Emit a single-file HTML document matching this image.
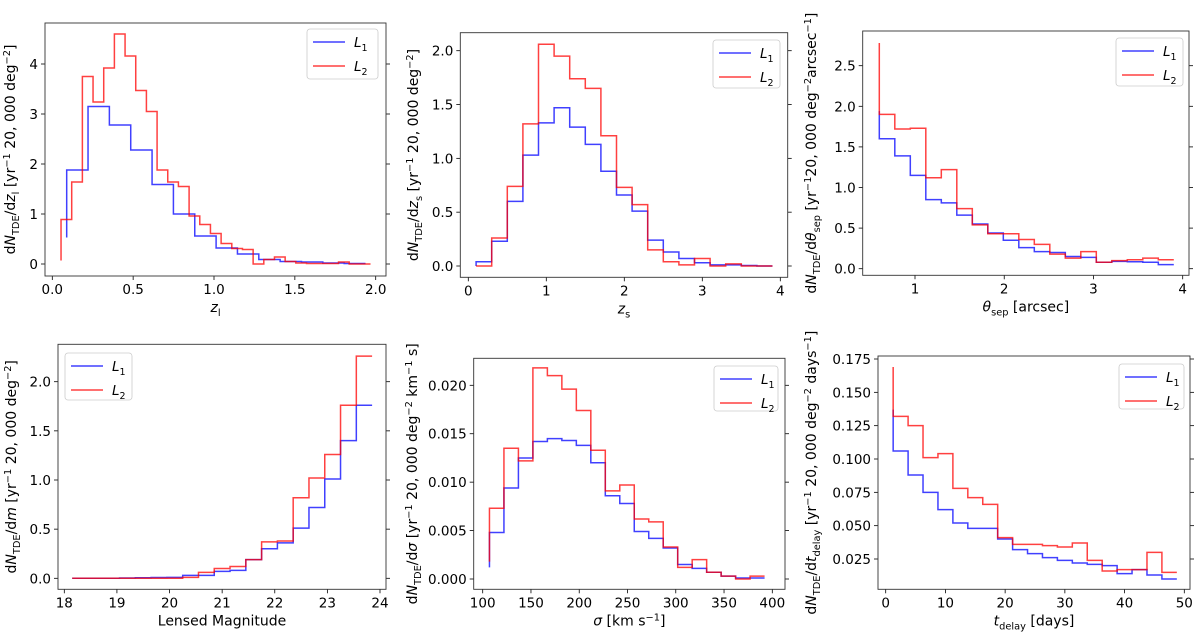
<!DOCTYPE html>
<html><head><meta charset="utf-8">
<style>
html,body{margin:0;padding:0;background:#fff;}
svg{display:block;font-family:"DejaVu Sans","Liberation Sans",sans-serif;}
</style></head>
<body>
<svg id="fig" width="1200" height="635" viewBox="0 0 1200 635" xmlns="http://www.w3.org/2000/svg"></svg>
<script>
// ---------- data ----------
const p1BlueStart = 0.089, p1BlueWidth = 0.132, p1BlueFirst = 0.53;
const p1Blue = [1.88,3.15,2.78,2.28,1.59,1.0,0.56,0.32,0.2,0.09,0.05,0.04,0.02,0.01];
const p1RedStart = 0.054, p1RedWidth = 0.066, p1RedFirst = 0.07;
const p1Red = [0.89,1.64,3.75,3.24,3.92,4.6,4.16,3.47,3.05,1.88,1.64,1.55,0.96,0.79,0.61,0.41,0.31,0.29,0.0,0.09,0.14,0.05,0.02,0.01,0.01,0.01,0.04,0.0,0.0];

const p2Start = 0.1, p2Width = 0.2;
const p2Blue = [0.04,0.23,0.6,1.03,1.33,1.47,1.29,1.13,0.88,0.66,0.51,0.24,0.13,0.07,0.03,0.01,0.01,0.005,0.0];
const p2Red = [0.0,0.26,0.74,1.32,2.06,1.95,1.74,1.65,1.21,0.73,0.57,0.15,0.04,0.01,0.07,0.0,0.02,0.0,0.0];

const p3Start = 0.6, p3Width = 0.1737;
const p3BlueFirst = 1.94, p3RedFirst = 2.78;
const p3Blue = [1.6,1.39,1.15,0.85,0.81,0.66,0.55,0.44,0.35,0.26,0.21,0.2,0.15,0.14,0.08,0.09,0.085,0.08,0.05];
const p3Red = [1.9,1.72,1.73,1.12,1.22,0.74,0.54,0.43,0.43,0.36,0.3,0.18,0.13,0.21,0.08,0.1,0.11,0.13,0.11];

const p4Start = 18.15, p4Width = 0.3;
const p4Blue = [0,0,0,0.003,0.005,0.008,0.01,0.03,0.03,0.07,0.08,0.19,0.3,0.36,0.51,0.72,1.01,1.4,1.76];
const p4Red = [0,0,0,0,0,0,0,0.01,0.06,0.1,0.12,0.19,0.37,0.38,0.82,1.02,1.26,1.76,2.26];

const p5Start = 107, p5Width = 15;
const p5BlueFirst = 0.0012, p5RedFirst = 0.0018;
const p5Blue = [0.0048,0.0094,0.0125,0.0142,0.0145,0.0143,0.0138,0.012,0.0086,0.0078,0.0049,0.0042,0.0032,0.0015,0.0011,0.0007,0.0003,0.0001,0.0001];
const p5Red = [0.0073,0.0135,0.0122,0.0218,0.021,0.0196,0.0174,0.0133,0.0091,0.0097,0.0062,0.0059,0.0033,0.0012,0.002,0.0007,0.0003,0.0,0.0003];

const p6Start = 1.25, p6Width = 2.5;
const p6BlueFirst = 0.137, p6RedFirst = 0.169;
const p6Blue = [0.106,0.088,0.075,0.062,0.052,0.048,0.048,0.040,0.032,0.029,0.026,0.024,0.022,0.021,0.020,0.014,0.017,0.013,0.010];
const p6Red = [0.132,0.125,0.101,0.104,0.078,0.071,0.066,0.041,0.036,0.036,0.035,0.034,0.037,0.024,0.016,0.017,0.017,0.030,0.015];

const xt1 = ["0.0","0.5","1.0","1.5","2.0"], yt1 = ["0","1","2","3","4"];
const xt2 = ["0","1","2","3","4"], yt2 = ["0.0","0.5","1.0","1.5","2.0"];
const xt3 = ["1","2","3","4"], yt3 = ["0.0","0.5","1.0","1.5","2.0","2.5"];
const xt4 = ["18","19","20","21","22","23","24"], yt4 = ["0.0","0.5","1.0","1.5","2.0"];
const xt5 = ["100","150","200","250","300","350","400"], yt5 = ["0.000","0.005","0.010","0.015","0.020"];
const xt6 = ["0","10","20","30","40","50"], yt6 = ["0.025","0.050","0.075","0.100","0.125","0.150","0.175"];

// ---------- drawing ----------
const NS = "http://www.w3.org/2000/svg";
const svg = document.getElementById("fig");
function mk(tag, attrs, parent){
  const e = document.createElementNS(NS, tag);
  for (const k in attrs) e.setAttribute(k, attrs[k]);
  (parent||svg).appendChild(e);
  return e;
}
function rich(t, s, fs){
  const re = /(_\{[^}]*\}|\^\{[^}]*\}|\*[^*]*\*|[^_^*]+)/g;
  let m, shift = 0;
  while ((m = re.exec(s))){
    const tok = m[0]; const sp = document.createElementNS(NS, "tspan");
    let dy = 0, txt = tok;
    if (tok.startsWith("_{")) { txt = tok.slice(2,-1); dy = 4 - shift; shift = 4; sp.setAttribute("font-size", fs*0.7); }
    else if (tok.startsWith("^{")) { txt = tok.slice(2,-1); dy = -5 - shift; shift = -5; sp.setAttribute("font-size", fs*0.7); }
    else { if (tok.startsWith("*")) { txt = tok.slice(1,-1); sp.setAttribute("font-style","italic"); } dy = -shift; shift = 0; }
    if (dy) sp.setAttribute("dy", dy);
    sp.textContent = txt; t.appendChild(sp);
  }
}
function panel(cfg){
  const g = mk("g", {});
  
  
  const [L,T,R,B] = cfg.frame;
  const X = v => cfg.xm[1] + (v - cfg.xm[0]) * (cfg.xm[3]-cfg.xm[1])/(cfg.xm[2]-cfg.xm[0]);
  const Y = v => cfg.ym[1] + (v - cfg.ym[0]) * (cfg.ym[3]-cfg.ym[1])/(cfg.ym[2]-cfg.ym[0]);
  cfg.xt.forEach(lab => {
    const x = X(parseFloat(lab));
    const tk = mk("line", {x1:x, x2:x, y1:B, y2:B+4, stroke:"#000", "stroke-width":0.8}, g);
    
    
    const t = mk("text", {x:x, y:B+18, "font-size":13.5, "text-anchor":"middle"}, g);
    
    
    t.textContent = lab;
  });
  cfg.yt.forEach(lab => {
    const y = Y(parseFloat(lab));
    mk("line", {x1:L-4, x2:L, y1:y, y2:y, stroke:"#000", "stroke-width":0.8}, g);
    mk("line", {x1:R, x2:R+4, y1:y, y2:y, stroke:"#000", "stroke-width":0.8}, g);
    const t = mk("text", {x:L-7, y:y+5, "font-size":13.5, "text-anchor":"end"}, g);
    
    
    t.textContent = lab;
  });
  cfg.series.forEach(s => {
    let d = "M" + X(s.start) + "," + Y(s.first);
    s.vals.forEach((v,i) => {
      const x0 = X(s.start + i*s.width), x1 = X(s.start + (i+1)*s.width);
      d += " L" + x0 + "," + Y(v) + " L" + x1 + "," + Y(v);
    });
    const p = mk("path", {d:d, fill:"none", stroke:s.color, "stroke-opacity":0.75, "stroke-width":1.5}, g);
    
    
  });
  const fr = mk("rect", {x:L, y:T, width:R-L, height:B-T, fill:"none", stroke:"#333", "stroke-width":0.9}, g);
  
  
  const xl = mk("text", {x:(L+R)/2, y:B+36, "font-size":14, "text-anchor":"middle"}, g);
  
  
  rich(xl, cfg.xlabel, 14);
  const cy = (T+B)/2;
  const yl = mk("text", {x:0, y:0, "font-size":14, "text-anchor":"middle", transform:`translate(${cfg.ylx},${cy}) rotate(-90)`}, g);
  
  
  rich(yl, cfg.ylabel, 14);
  const [lx,ly,lw,lh] = cfg.legend;
  const lg = mk("g", {}, g);
  
  
  mk("rect", {x:lx, y:ly, width:lw, height:lh, rx:3, fill:"#fff", "fill-opacity":0.8, stroke:"#ccc", "stroke-width":0.8}, lg);
  [["#0000ff","*L*_{1}","legend-entry-l1"],["#ff0000","*L*_{2}","legend-entry-l2"]].forEach((e,i) => {
    const yy = ly + 13 + i*24;
    const ln = mk("line", {x1:lx+6, x2:lx+38, y1:yy, y2:yy, stroke:e[0], "stroke-opacity":0.75, "stroke-width":1.5}, lg);
    
    
    const t = mk("text", {x:lx+47, y:yy+5, "font-size":13.5}, lg);
    
    
    rich(t, e[1], 13.5);
  });
}
const B = "#0000ff", Rd = "#ff0000";
panel({name:"panel-lens-redshift", frame:[45,23,386,276], xm:[0,52.3,2,375.7], ym:[0,264,4,64],
  xt:xt1, yt:yt1, xlabel:"*z*_{l}", ylabel:"d*N*_{TDE}/d*z*_{l} [yr^{−1} 20, 000 deg^{−2}]", ylx:15, legend:[307,29,71,50],
  series:[{sname:"series-l1", color:B, start:p1BlueStart, width:p1BlueWidth, first:p1BlueFirst, vals:p1Blue},
          {sname:"series-l2", color:Rd, start:p1RedStart, width:p1RedWidth, first:p1RedFirst, vals:p1Red}]});
panel({name:"panel-source-redshift", frame:[460.3,32.7,787.7,277.3], xm:[0,468.3,4,780.3], ym:[0,266,2,50.7],
  xt:xt2, yt:yt2, xlabel:"*z*_{s}", ylabel:"d*N*_{TDE}/d*z*_{s} [yr^{−1} 20, 000 deg^{−2}]", ylx:418, legend:[713,40,67,48],
  series:[{sname:"series-l1", color:B, start:p2Start, width:p2Width, first:0, vals:p2Blue},
          {sname:"series-l2", color:Rd, start:p2Start, width:p2Width, first:0, vals:p2Red}]});
panel({name:"panel-separation", frame:[862.7,31,1189,275.3], xm:[1,915,4,1182.7], ym:[0,268.7,2.5,65.7],
  xt:xt3, yt:yt3, xlabel:"*θ*_{sep} [arcsec]", ylabel:"d*N*_{TDE}/d*θ*_{sep} [yr^{−1}20, 000 deg^{−2}arcsec^{−1}]", ylx:816, legend:[1116,38,67,48],
  series:[{sname:"series-l1", color:B, start:p3Start, width:p3Width, first:p3BlueFirst, vals:p3Blue},
          {sname:"series-l2", color:Rd, start:p3Start, width:p3Width, first:p3RedFirst, vals:p3Red}]});
panel({name:"panel-magnitude", frame:[58,344.3,386,589.3], xm:[18,64.3,24,380], ym:[0,578.3,2,381.7],
  xt:xt4, yt:yt4, xlabel:"Lensed Magnitude", ylabel:"d*N*_{TDE}/d*m* [yr^{−1} 20, 000 deg^{−2}]", ylx:16, legend:[65,353,67,47],
  series:[{sname:"series-l1", color:B, start:p4Start, width:p4Width, first:0, vals:p4Blue},
          {sname:"series-l2", color:Rd, start:p4Start, width:p4Width, first:0, vals:p4Red}]});
panel({name:"panel-velocity-dispersion", frame:[473.7,358.3,785,589.3], xm:[100,482.7,400,772.3], ym:[0,579,0.02,385.3],
  xt:xt5, yt:yt5, xlabel:"*σ* [km s^{−1}]", ylabel:"d*N*_{TDE}/d*σ* [yr^{−1} 20, 000 deg^{−2} km^{−1} s]", ylx:417, legend:[714,366,64,45],
  series:[{sname:"series-l1", color:B, start:p5Start, width:p5Width, first:p5BlueFirst, vals:p5Blue},
          {sname:"series-l2", color:Rd, start:p5Start, width:p5Width, first:p5RedFirst, vals:p5Red}]});
panel({name:"panel-time-delay", frame:[878,356,1190,589.3], xm:[0,885.7,50,1184.3], ym:[0.025,559,0.175,359],
  xt:xt6, yt:yt6, xlabel:"*t*_{delay} [days]", ylabel:"d*N*_{TDE}/d*t*_{delay} [yr^{−1} 20, 000 deg^{−2} days^{−1}]", ylx:816, legend:[1119,364,65,45],
  series:[{sname:"series-l1", color:B, start:p6Start, width:p6Width, first:p6BlueFirst, vals:p6Blue},
          {sname:"series-l2", color:Rd, start:p6Start, width:p6Width, first:p6RedFirst, vals:p6Red}]});
</script>
</body></html>
